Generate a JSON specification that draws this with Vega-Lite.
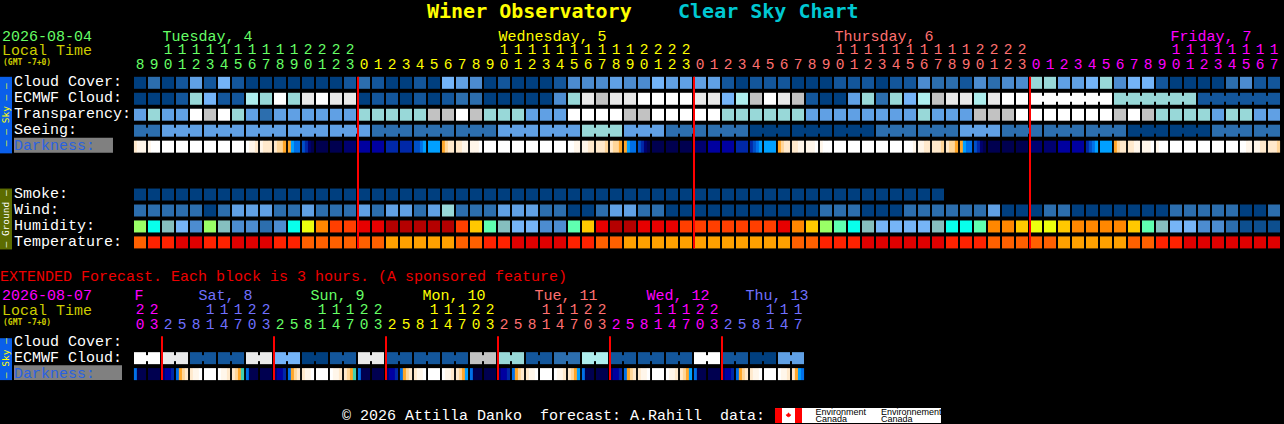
{"$schema":"https://vega.github.io/schema/vega-lite/v6.json","autosize":{"type":"fit","contains":"padding"},"width":1284,"height":424,"padding":0,"background":"#000000","view":{"stroke":null},
"encoding":{"x":{"field":"c","type":"quantitative","axis":null,"scale":{"domain":[-10,81.7142857],"nice":false,"zero":false}},"y":{"field":"l","type":"quantitative","axis":null,"scale":{"domain":[-5.1875,21.3125],"nice":false,"zero":false,"reverse":true}},"color":{"field":"v","type":"nominal","legend":null,"scale":{"domain":["c0","c1","c2","c3","c4","c5","c6","c7","c8","c9","c10","h0","h1","h2","h3","h4","h5","h6","h7","h8","h9","h10","h11","h12","h13","t0","t1","t2","t3","d0","d1","d2","d3","d4","d5","d6","d7","d8","d9","d10","d11","d12","g","y","s","m","p","w","k","o","b","e","red","sky","ground","gray","cy"],"range":["#003f7f","#13569b","#2c6eae","#4c8cd0","#60a0e4","#74b4f8","#98d8d8","#aeeeee","#c2c2c2","#e9e9e9","#ffffff","#0d4f8f","#2c6eae","#4c8cd0","#76b4f7","#85bfbf","#99ff66","#5fffb0","#08ffec","#ecff0e","#ffc800","#ff8700","#ff3f00","#e80000","#b40000","#ff6000","#ff2200","#e00000","#ffa000","#ffffff","#fff6ea","#ffe9cc","#ffd699","#ffa628","#00a0ff","#0070e8","#0050c8","#0028a8","#0000a0","#000070","#000050","#40d0b0","#66ff66","#ffff00","#ff7070","#ff00ff","#7070ff","#ffffff","#000000","#cccc00","#2a62e0","#ee0000","#ff0000","#0a5fea","#5c6c00","#808080","#00c8d2"]}}},
"datasets":{
"panels":[{"c":-10,"c2":-9.143,"l":-0.375,"l2":4.42,"v":"sky"},{"c":-10,"c2":-9.143,"l":6.625,"l2":10.44,"v":"ground"},{"c":-10,"c2":-9.143,"l":16,"l2":18.625,"v":"sky"},{"c":-9,"c2":-1.93,"l":3.44,"l2":4.375,"v":"gray"},{"c":-9,"c2":-1.286,"l":17.69,"l2":18.625,"v":"gray"},{"c":45.357,"c2":57.214,"l":20.375,"l2":21.3125,"v":"w"},{"c":45.357,"c2":45.857,"l":20.375,"l2":21.3125,"v":"red"},{"c":46.786,"c2":47.286,"l":20.375,"l2":21.3125,"v":"red"}],
"cells":[
{"l":0,"c":0,"v":"c0"},{"l":0,"c":1,"v":"c2"},{"l":0,"c":2,"v":"c0"},{"l":0,"c":3,"v":"c1"},{"l":0,"c":4,"v":"c4"},{"l":0,"c":5,"v":"c1"},{"l":0,"c":6,"v":"c5"},{"l":0,"c":7,"v":"c1"},{"l":0,"c":8,"v":"c0"},{"l":0,"c":9,"v":"c0"},{"l":0,"c":10,"v":"c0"},{"l":0,"c":11,"v":"c0"},{"l":0,"c":12,"v":"c0"},{"l":0,"c":13,"v":"c0"},{"l":0,"c":14,"v":"c0"},{"l":0,"c":15,"v":"c1"},{"l":0,"c":16,"v":"c2"},{"l":0,"c":17,"v":"c1"},{"l":0,"c":18,"v":"c0"},{"l":0,"c":19,"v":"c0"},{"l":0,"c":20,"v":"c1"},{"l":0,"c":21,"v":"c0"},{"l":0,"c":22,"v":"c5"},{"l":0,"c":23,"v":"c4"},{"l":0,"c":24,"v":"c3"},{"l":0,"c":25,"v":"c0"},{"l":0,"c":26,"v":"c1"},{"l":0,"c":27,"v":"c0"},{"l":0,"c":28,"v":"c0"},{"l":0,"c":29,"v":"c0"},{"l":0,"c":30,"v":"c1"},{"l":0,"c":31,"v":"c3"},{"l":0,"c":32,"v":"c3"},{"l":0,"c":33,"v":"c3"},{"l":0,"c":34,"v":"c4"},{"l":0,"c":35,"v":"c3"},{"l":0,"c":36,"v":"c3"},{"l":0,"c":37,"v":"c5"},{"l":0,"c":38,"v":"c4"},{"l":0,"c":39,"v":"c4"},{"l":0,"c":40,"v":"c4"},{"l":0,"c":41,"v":"c4"},{"l":0,"c":42,"v":"c1"},{"l":0,"c":43,"v":"c0"},{"l":0,"c":44,"v":"c1"},{"l":0,"c":45,"v":"c1"},{"l":0,"c":46,"v":"c1"},{"l":0,"c":47,"v":"c0"},{"l":0,"c":48,"v":"c0"},{"l":0,"c":49,"v":"c0"},{"l":0,"c":50,"v":"c1"},{"l":0,"c":51,"v":"c1"},{"l":0,"c":52,"v":"c1"},{"l":0,"c":53,"v":"c0"},{"l":0,"c":54,"v":"c1"},{"l":0,"c":55,"v":"c1"},{"l":0,"c":56,"v":"c3"},{"l":0,"c":57,"v":"c2"},{"l":0,"c":58,"v":"c2"},{"l":0,"c":59,"v":"c1"},{"l":0,"c":60,"v":"c3"},{"l":0,"c":61,"v":"c2"},{"l":0,"c":62,"v":"c3"},{"l":0,"c":63,"v":"c3"},{"l":0,"c":64,"v":"c6"},{"l":0,"c":65,"v":"c6"},{"l":0,"c":66,"v":"c4"},{"l":0,"c":67,"v":"c4"},{"l":0,"c":68,"v":"c5"},{"l":0,"c":69,"v":"c6"},{"l":0,"c":70,"v":"c3"},{"l":0,"c":71,"v":"c5"},{"l":0,"c":72,"v":"c5"},{"l":0,"c":73,"v":"c1"},{"l":0,"c":74,"v":"c0"},{"l":0,"c":75,"v":"c0"},{"l":0,"c":76,"v":"c0"},{"l":0,"c":77,"v":"c0"},{"l":0,"c":78,"v":"c2"},{"l":0,"c":79,"v":"c3"},{"l":0,"c":80,"v":"c1"},{"l":0,"c":81,"v":"c1"},
{"l":1,"c":0,"v":"c0"},{"l":1,"c":1,"v":"c0"},{"l":1,"c":2,"v":"c0"},{"l":1,"c":3,"v":"c1"},{"l":1,"c":4,"v":"c6"},{"l":1,"c":5,"v":"c5"},{"l":1,"c":6,"v":"c1"},{"l":1,"c":7,"v":"c1"},{"l":1,"c":8,"v":"c7"},{"l":1,"c":9,"v":"c6"},{"l":1,"c":10,"v":"c10"},{"l":1,"c":11,"v":"c6"},{"l":1,"c":12,"v":"c9"},{"l":1,"c":13,"v":"c10"},{"l":1,"c":14,"v":"c9"},{"l":1,"c":15,"v":"c9"},{"l":1,"c":16,"v":"c0"},{"l":1,"c":17,"v":"c1"},{"l":1,"c":18,"v":"c1"},{"l":1,"c":19,"v":"c0"},{"l":1,"c":20,"v":"c1"},{"l":1,"c":21,"v":"c0"},{"l":1,"c":22,"v":"c1"},{"l":1,"c":23,"v":"c2"},{"l":1,"c":24,"v":"c2"},{"l":1,"c":25,"v":"c0"},{"l":1,"c":26,"v":"c0"},{"l":1,"c":27,"v":"c0"},{"l":1,"c":28,"v":"c0"},{"l":1,"c":29,"v":"c0"},{"l":1,"c":30,"v":"c3"},{"l":1,"c":31,"v":"c6"},{"l":1,"c":32,"v":"c9"},{"l":1,"c":33,"v":"c8"},{"l":1,"c":34,"v":"c9"},{"l":1,"c":35,"v":"c9"},{"l":1,"c":36,"v":"c10"},{"l":1,"c":37,"v":"c10"},{"l":1,"c":38,"v":"c10"},{"l":1,"c":39,"v":"c10"},{"l":1,"c":40,"v":"c9"},{"l":1,"c":41,"v":"c9"},{"l":1,"c":42,"v":"c5"},{"l":1,"c":43,"v":"c7"},{"l":1,"c":44,"v":"c8"},{"l":1,"c":45,"v":"c10"},{"l":1,"c":46,"v":"c9"},{"l":1,"c":47,"v":"c8"},{"l":1,"c":48,"v":"c1"},{"l":1,"c":49,"v":"c0"},{"l":1,"c":50,"v":"c0"},{"l":1,"c":51,"v":"c4"},{"l":1,"c":52,"v":"c6"},{"l":1,"c":53,"v":"c2"},{"l":1,"c":54,"v":"c6"},{"l":1,"c":55,"v":"c5"},{"l":1,"c":56,"v":"c7"},{"l":1,"c":57,"v":"c8"},{"l":1,"c":58,"v":"c9"},{"l":1,"c":59,"v":"c9"},{"l":1,"c":60,"v":"c7"},{"l":1,"c":61,"v":"c9"},{"l":1,"c":62,"v":"c10"},{"l":1,"c":63,"v":"c10"},{"l":1,"c":64,"v":"c10"},{"l":1,"c":65,"v":"c10"},{"l":1,"c":66,"v":"c10"},{"l":1,"c":67,"v":"c10"},{"l":1,"c":68,"v":"c10"},{"l":1,"c":69,"v":"c10"},{"l":1,"c":70,"v":"c6"},{"l":1,"c":71,"v":"c6"},{"l":1,"c":72,"v":"c6"},{"l":1,"c":73,"v":"c6"},{"l":1,"c":74,"v":"c6"},{"l":1,"c":75,"v":"c6"},{"l":1,"c":76,"v":"c1"},{"l":1,"c":77,"v":"c1"},{"l":1,"c":78,"v":"c1"},{"l":1,"c":79,"v":"c1"},{"l":1,"c":80,"v":"c1"},{"l":1,"c":81,"v":"c1"},
{"l":2,"c":0,"v":"c4"},{"l":2,"c":1,"v":"c6"},{"l":2,"c":2,"v":"c4"},{"l":2,"c":3,"v":"c4"},{"l":2,"c":4,"v":"c10"},{"l":2,"c":5,"v":"c8"},{"l":2,"c":6,"v":"c10"},{"l":2,"c":7,"v":"c6"},{"l":2,"c":8,"v":"c4"},{"l":2,"c":9,"v":"c2"},{"l":2,"c":10,"v":"c4"},{"l":2,"c":11,"v":"c4"},{"l":2,"c":12,"v":"c4"},{"l":2,"c":13,"v":"c4"},{"l":2,"c":14,"v":"c4"},{"l":2,"c":15,"v":"c4"},{"l":2,"c":16,"v":"c6"},{"l":2,"c":17,"v":"c6"},{"l":2,"c":18,"v":"c6"},{"l":2,"c":19,"v":"c6"},{"l":2,"c":20,"v":"c6"},{"l":2,"c":21,"v":"c8"},{"l":2,"c":22,"v":"c8"},{"l":2,"c":23,"v":"c10"},{"l":2,"c":24,"v":"c8"},{"l":2,"c":25,"v":"c6"},{"l":2,"c":26,"v":"c6"},{"l":2,"c":27,"v":"c6"},{"l":2,"c":28,"v":"c4"},{"l":2,"c":29,"v":"c4"},{"l":2,"c":30,"v":"c4"},{"l":2,"c":31,"v":"c10"},{"l":2,"c":32,"v":"c10"},{"l":2,"c":33,"v":"c10"},{"l":2,"c":34,"v":"c10"},{"l":2,"c":35,"v":"c8"},{"l":2,"c":36,"v":"c8"},{"l":2,"c":37,"v":"c10"},{"l":2,"c":38,"v":"c10"},{"l":2,"c":39,"v":"c10"},{"l":2,"c":40,"v":"c10"},{"l":2,"c":41,"v":"c10"},{"l":2,"c":42,"v":"c6"},{"l":2,"c":43,"v":"c6"},{"l":2,"c":44,"v":"c6"},{"l":2,"c":45,"v":"c6"},{"l":2,"c":46,"v":"c6"},{"l":2,"c":47,"v":"c6"},{"l":2,"c":48,"v":"c4"},{"l":2,"c":49,"v":"c4"},{"l":2,"c":50,"v":"c4"},{"l":2,"c":51,"v":"c4"},{"l":2,"c":52,"v":"c4"},{"l":2,"c":53,"v":"c4"},{"l":2,"c":54,"v":"c4"},{"l":2,"c":55,"v":"c4"},{"l":2,"c":56,"v":"c6"},{"l":2,"c":57,"v":"c4"},{"l":2,"c":58,"v":"c4"},{"l":2,"c":59,"v":"c4"},{"l":2,"c":60,"v":"c8"},{"l":2,"c":61,"v":"c8"},{"l":2,"c":62,"v":"c8"},{"l":2,"c":63,"v":"c10"},{"l":2,"c":64,"v":"c10"},{"l":2,"c":65,"v":"c10"},{"l":2,"c":66,"v":"c10"},{"l":2,"c":67,"v":"c10"},{"l":2,"c":68,"v":"c10"},{"l":2,"c":69,"v":"c10"},{"l":2,"c":70,"v":"c8"},{"l":2,"c":71,"v":"c10"},{"l":2,"c":72,"v":"c8"},{"l":2,"c":73,"v":"c6"},{"l":2,"c":74,"v":"c6"},{"l":2,"c":75,"v":"c6"},{"l":2,"c":76,"v":"c6"},{"l":2,"c":77,"v":"c4"},{"l":2,"c":78,"v":"c6"},{"l":2,"c":79,"v":"c6"},{"l":2,"c":80,"v":"c4"},{"l":2,"c":81,"v":"c4"},
{"l":3,"c":0,"v":"c2"},{"l":3,"c":1,"v":"c2"},{"l":3,"c":2,"v":"c4"},{"l":3,"c":3,"v":"c4"},{"l":3,"c":4,"v":"c4"},{"l":3,"c":5,"v":"c4"},{"l":3,"c":6,"v":"c4"},{"l":3,"c":7,"v":"c4"},{"l":3,"c":8,"v":"c4"},{"l":3,"c":9,"v":"c4"},{"l":3,"c":10,"v":"c4"},{"l":3,"c":11,"v":"c4"},{"l":3,"c":12,"v":"c4"},{"l":3,"c":13,"v":"c4"},{"l":3,"c":14,"v":"c4"},{"l":3,"c":15,"v":"c4"},{"l":3,"c":16,"v":"c4"},{"l":3,"c":17,"v":"c2"},{"l":3,"c":18,"v":"c2"},{"l":3,"c":19,"v":"c2"},{"l":3,"c":20,"v":"c2"},{"l":3,"c":21,"v":"c2"},{"l":3,"c":22,"v":"c2"},{"l":3,"c":23,"v":"c2"},{"l":3,"c":24,"v":"c2"},{"l":3,"c":25,"v":"c2"},{"l":3,"c":26,"v":"c4"},{"l":3,"c":27,"v":"c4"},{"l":3,"c":28,"v":"c4"},{"l":3,"c":29,"v":"c4"},{"l":3,"c":30,"v":"c4"},{"l":3,"c":31,"v":"c4"},{"l":3,"c":32,"v":"c6"},{"l":3,"c":33,"v":"c6"},{"l":3,"c":34,"v":"c6"},{"l":3,"c":35,"v":"c4"},{"l":3,"c":36,"v":"c4"},{"l":3,"c":37,"v":"c4"},{"l":3,"c":38,"v":"c2"},{"l":3,"c":39,"v":"c2"},{"l":3,"c":40,"v":"c2"},{"l":3,"c":41,"v":"c2"},{"l":3,"c":42,"v":"c2"},{"l":3,"c":43,"v":"c2"},{"l":3,"c":44,"v":"c0"},{"l":3,"c":45,"v":"c0"},{"l":3,"c":46,"v":"c0"},{"l":3,"c":47,"v":"c0"},{"l":3,"c":48,"v":"c0"},{"l":3,"c":49,"v":"c0"},{"l":3,"c":50,"v":"c0"},{"l":3,"c":51,"v":"c0"},{"l":3,"c":52,"v":"c0"},{"l":3,"c":53,"v":"c2"},{"l":3,"c":54,"v":"c2"},{"l":3,"c":55,"v":"c2"},{"l":3,"c":56,"v":"c2"},{"l":3,"c":57,"v":"c2"},{"l":3,"c":58,"v":"c2"},{"l":3,"c":59,"v":"c4"},{"l":3,"c":60,"v":"c4"},{"l":3,"c":61,"v":"c4"},{"l":3,"c":62,"v":"c2"},{"l":3,"c":63,"v":"c2"},{"l":3,"c":64,"v":"c2"},{"l":3,"c":65,"v":"c2"},{"l":3,"c":66,"v":"c2"},{"l":3,"c":67,"v":"c2"},{"l":3,"c":68,"v":"c2"},{"l":3,"c":69,"v":"c2"},{"l":3,"c":70,"v":"c2"},{"l":3,"c":71,"v":"c0"},{"l":3,"c":72,"v":"c0"},{"l":3,"c":73,"v":"c0"},{"l":3,"c":74,"v":"c0"},{"l":3,"c":75,"v":"c0"},{"l":3,"c":76,"v":"c0"},{"l":3,"c":77,"v":"c2"},{"l":3,"c":78,"v":"c2"},{"l":3,"c":79,"v":"c2"},{"l":3,"c":80,"v":"c2"},{"l":3,"c":81,"v":"c2"},
{"l":4,"c":2,"v":"d0"},{"l":4,"c":3,"v":"d0"},{"l":4,"c":4,"v":"d0"},{"l":4,"c":5,"v":"d0"},{"l":4,"c":6,"v":"d0"},{"l":4,"c":7,"v":"d0"},{"l":4,"c":13,"v":"d11"},{"l":4,"c":14,"v":"d11"},{"l":4,"c":15,"v":"d10"},{"l":4,"c":16,"v":"d9"},{"l":4,"c":17,"v":"d9"},{"l":4,"c":18,"v":"d8"},{"l":4,"c":19,"v":"d8"},{"l":4,"c":21,"v":"d5"},{"l":4,"c":25,"v":"d0"},{"l":4,"c":26,"v":"d0"},{"l":4,"c":27,"v":"d0"},{"l":4,"c":28,"v":"d0"},{"l":4,"c":29,"v":"d0"},{"l":4,"c":30,"v":"d0"},{"l":4,"c":37,"v":"d11"},{"l":4,"c":38,"v":"d11"},{"l":4,"c":39,"v":"d11"},{"l":4,"c":40,"v":"d10"},{"l":4,"c":41,"v":"d9"},{"l":4,"c":42,"v":"d9"},{"l":4,"c":43,"v":"d8"},{"l":4,"c":45,"v":"d5"},{"l":4,"c":50,"v":"d0"},{"l":4,"c":51,"v":"d0"},{"l":4,"c":52,"v":"d0"},{"l":4,"c":53,"v":"d0"},{"l":4,"c":54,"v":"d0"},{"l":4,"c":61,"v":"d11"},{"l":4,"c":62,"v":"d11"},{"l":4,"c":63,"v":"d11"},{"l":4,"c":64,"v":"d10"},{"l":4,"c":65,"v":"d10"},{"l":4,"c":66,"v":"d9"},{"l":4,"c":67,"v":"d9"},{"l":4,"c":69,"v":"d5"},{"l":4,"c":74,"v":"d0"},{"l":4,"c":75,"v":"d0"},{"l":4,"c":76,"v":"d0"},{"l":4,"c":77,"v":"d0"},{"l":4,"c":78,"v":"d0"},
{"l":7,"c":0,"v":"c0"},{"l":7,"c":1,"v":"c0"},{"l":7,"c":2,"v":"c0"},{"l":7,"c":3,"v":"c0"},{"l":7,"c":4,"v":"c0"},{"l":7,"c":5,"v":"c0"},{"l":7,"c":6,"v":"c0"},{"l":7,"c":7,"v":"c0"},{"l":7,"c":8,"v":"c0"},{"l":7,"c":9,"v":"c0"},{"l":7,"c":10,"v":"c0"},{"l":7,"c":11,"v":"c0"},{"l":7,"c":12,"v":"c0"},{"l":7,"c":13,"v":"c0"},{"l":7,"c":14,"v":"c0"},{"l":7,"c":15,"v":"c0"},{"l":7,"c":16,"v":"c0"},{"l":7,"c":17,"v":"c0"},{"l":7,"c":18,"v":"c0"},{"l":7,"c":19,"v":"c0"},{"l":7,"c":20,"v":"c0"},{"l":7,"c":21,"v":"c0"},{"l":7,"c":22,"v":"c0"},{"l":7,"c":23,"v":"c0"},{"l":7,"c":24,"v":"c0"},{"l":7,"c":25,"v":"c0"},{"l":7,"c":26,"v":"c0"},{"l":7,"c":27,"v":"c0"},{"l":7,"c":28,"v":"c0"},{"l":7,"c":29,"v":"c0"},{"l":7,"c":30,"v":"c0"},{"l":7,"c":31,"v":"c0"},{"l":7,"c":32,"v":"c0"},{"l":7,"c":33,"v":"c0"},{"l":7,"c":34,"v":"c0"},{"l":7,"c":35,"v":"c0"},{"l":7,"c":36,"v":"c0"},{"l":7,"c":37,"v":"c0"},{"l":7,"c":38,"v":"c0"},{"l":7,"c":39,"v":"c0"},{"l":7,"c":40,"v":"c0"},{"l":7,"c":41,"v":"c0"},{"l":7,"c":42,"v":"c0"},{"l":7,"c":43,"v":"c0"},{"l":7,"c":44,"v":"c0"},{"l":7,"c":45,"v":"c0"},{"l":7,"c":46,"v":"c0"},{"l":7,"c":47,"v":"c0"},{"l":7,"c":48,"v":"c0"},{"l":7,"c":49,"v":"c0"},{"l":7,"c":50,"v":"c0"},{"l":7,"c":51,"v":"c0"},{"l":7,"c":52,"v":"c0"},{"l":7,"c":53,"v":"c0"},{"l":7,"c":54,"v":"c0"},{"l":7,"c":55,"v":"c0"},{"l":7,"c":56,"v":"c0"},{"l":7,"c":57,"v":"c0"},
{"l":8,"c":0,"v":"c2"},{"l":8,"c":1,"v":"c2"},{"l":8,"c":2,"v":"c2"},{"l":8,"c":3,"v":"c2"},{"l":8,"c":4,"v":"c2"},{"l":8,"c":5,"v":"c0"},{"l":8,"c":6,"v":"c2"},{"l":8,"c":7,"v":"c4"},{"l":8,"c":8,"v":"c4"},{"l":8,"c":9,"v":"c4"},{"l":8,"c":10,"v":"c2"},{"l":8,"c":11,"v":"c2"},{"l":8,"c":12,"v":"c4"},{"l":8,"c":13,"v":"c2"},{"l":8,"c":14,"v":"c2"},{"l":8,"c":15,"v":"c2"},{"l":8,"c":16,"v":"c4"},{"l":8,"c":17,"v":"c2"},{"l":8,"c":18,"v":"c4"},{"l":8,"c":19,"v":"c4"},{"l":8,"c":20,"v":"c2"},{"l":8,"c":21,"v":"c4"},{"l":8,"c":22,"v":"c6"},{"l":8,"c":23,"v":"c2"},{"l":8,"c":24,"v":"c2"},{"l":8,"c":25,"v":"c2"},{"l":8,"c":26,"v":"c4"},{"l":8,"c":27,"v":"c4"},{"l":8,"c":28,"v":"c4"},{"l":8,"c":29,"v":"c2"},{"l":8,"c":30,"v":"c2"},{"l":8,"c":31,"v":"c0"},{"l":8,"c":32,"v":"c0"},{"l":8,"c":33,"v":"c2"},{"l":8,"c":34,"v":"c4"},{"l":8,"c":35,"v":"c4"},{"l":8,"c":36,"v":"c2"},{"l":8,"c":37,"v":"c2"},{"l":8,"c":38,"v":"c0"},{"l":8,"c":39,"v":"c0"},{"l":8,"c":40,"v":"c0"},{"l":8,"c":41,"v":"c0"},{"l":8,"c":42,"v":"c0"},{"l":8,"c":43,"v":"c0"},{"l":8,"c":44,"v":"c0"},{"l":8,"c":45,"v":"c0"},{"l":8,"c":46,"v":"c0"},{"l":8,"c":47,"v":"c0"},{"l":8,"c":48,"v":"c0"},{"l":8,"c":49,"v":"c2"},{"l":8,"c":50,"v":"c2"},{"l":8,"c":51,"v":"c2"},{"l":8,"c":52,"v":"c0"},{"l":8,"c":53,"v":"c0"},{"l":8,"c":54,"v":"c0"},{"l":8,"c":55,"v":"c2"},{"l":8,"c":56,"v":"c2"},{"l":8,"c":57,"v":"c2"},{"l":8,"c":58,"v":"c2"},{"l":8,"c":59,"v":"c2"},{"l":8,"c":60,"v":"c2"},{"l":8,"c":61,"v":"c4"},{"l":8,"c":62,"v":"c0"},{"l":8,"c":63,"v":"c0"},{"l":8,"c":64,"v":"c0"},{"l":8,"c":65,"v":"c2"},{"l":8,"c":66,"v":"c2"},{"l":8,"c":67,"v":"c0"},{"l":8,"c":68,"v":"c0"},{"l":8,"c":69,"v":"c0"},{"l":8,"c":70,"v":"c0"},{"l":8,"c":71,"v":"c0"},{"l":8,"c":72,"v":"c0"},{"l":8,"c":73,"v":"c0"},{"l":8,"c":74,"v":"c2"},{"l":8,"c":75,"v":"c2"},{"l":8,"c":76,"v":"c2"},{"l":8,"c":77,"v":"c2"},{"l":8,"c":78,"v":"c2"},{"l":8,"c":79,"v":"c0"},{"l":8,"c":80,"v":"c0"},{"l":8,"c":81,"v":"c2"},
{"l":9,"c":0,"v":"h5"},{"l":9,"c":1,"v":"h7"},{"l":9,"c":2,"v":"h4"},{"l":9,"c":3,"v":"h3"},{"l":9,"c":4,"v":"h2"},{"l":9,"c":5,"v":"h5"},{"l":9,"c":6,"v":"h4"},{"l":9,"c":7,"v":"h2"},{"l":9,"c":8,"v":"h2"},{"l":9,"c":9,"v":"h1"},{"l":9,"c":10,"v":"h2"},{"l":9,"c":11,"v":"h7"},{"l":9,"c":12,"v":"h8"},{"l":9,"c":13,"v":"h10"},{"l":9,"c":14,"v":"h11"},{"l":9,"c":15,"v":"h11"},{"l":9,"c":16,"v":"h12"},{"l":9,"c":17,"v":"h12"},{"l":9,"c":18,"v":"h13"},{"l":9,"c":19,"v":"h13"},{"l":9,"c":20,"v":"h13"},{"l":9,"c":21,"v":"h13"},{"l":9,"c":22,"v":"h13"},{"l":9,"c":23,"v":"h11"},{"l":9,"c":24,"v":"h9"},{"l":9,"c":25,"v":"h6"},{"l":9,"c":26,"v":"h4"},{"l":9,"c":27,"v":"h3"},{"l":9,"c":28,"v":"h3"},{"l":9,"c":29,"v":"h2"},{"l":9,"c":30,"v":"h2"},{"l":9,"c":31,"v":"h6"},{"l":9,"c":32,"v":"h9"},{"l":9,"c":33,"v":"h12"},{"l":9,"c":34,"v":"h13"},{"l":9,"c":35,"v":"h13"},{"l":9,"c":36,"v":"h12"},{"l":9,"c":37,"v":"h12"},{"l":9,"c":38,"v":"h12"},{"l":9,"c":39,"v":"h11"},{"l":9,"c":40,"v":"h11"},{"l":9,"c":41,"v":"h11"},{"l":9,"c":42,"v":"h11"},{"l":9,"c":43,"v":"h11"},{"l":9,"c":44,"v":"h11"},{"l":9,"c":45,"v":"h11"},{"l":9,"c":46,"v":"h12"},{"l":9,"c":47,"v":"h10"},{"l":9,"c":48,"v":"h9"},{"l":9,"c":49,"v":"h5"},{"l":9,"c":50,"v":"h6"},{"l":9,"c":51,"v":"h7"},{"l":9,"c":52,"v":"h4"},{"l":9,"c":53,"v":"h3"},{"l":9,"c":54,"v":"h3"},{"l":9,"c":55,"v":"h3"},{"l":9,"c":56,"v":"h3"},{"l":9,"c":57,"v":"h4"},{"l":9,"c":58,"v":"h7"},{"l":9,"c":59,"v":"h7"},{"l":9,"c":60,"v":"h6"},{"l":9,"c":61,"v":"h10"},{"l":9,"c":62,"v":"h10"},{"l":9,"c":63,"v":"h9"},{"l":9,"c":64,"v":"h8"},{"l":9,"c":65,"v":"h8"},{"l":9,"c":66,"v":"h9"},{"l":9,"c":67,"v":"h10"},{"l":9,"c":68,"v":"h10"},{"l":9,"c":69,"v":"h10"},{"l":9,"c":70,"v":"h10"},{"l":9,"c":71,"v":"h9"},{"l":9,"c":72,"v":"h6"},{"l":9,"c":73,"v":"h4"},{"l":9,"c":74,"v":"h3"},{"l":9,"c":75,"v":"h3"},{"l":9,"c":76,"v":"h2"},{"l":9,"c":77,"v":"h2"},{"l":9,"c":78,"v":"h1"},{"l":9,"c":79,"v":"h0"},{"l":9,"c":80,"v":"h0"},{"l":9,"c":81,"v":"h0"},
{"l":10,"c":0,"v":"t0"},{"l":10,"c":1,"v":"t1"},{"l":10,"c":2,"v":"t1"},{"l":10,"c":3,"v":"t2"},{"l":10,"c":4,"v":"t2"},{"l":10,"c":5,"v":"t1"},{"l":10,"c":6,"v":"t1"},{"l":10,"c":7,"v":"t2"},{"l":10,"c":8,"v":"t2"},{"l":10,"c":9,"v":"t2"},{"l":10,"c":10,"v":"t1"},{"l":10,"c":11,"v":"t1"},{"l":10,"c":12,"v":"t0"},{"l":10,"c":13,"v":"t0"},{"l":10,"c":14,"v":"t0"},{"l":10,"c":15,"v":"t0"},{"l":10,"c":16,"v":"t0"},{"l":10,"c":17,"v":"t0"},{"l":10,"c":18,"v":"t3"},{"l":10,"c":19,"v":"t3"},{"l":10,"c":20,"v":"t3"},{"l":10,"c":21,"v":"t3"},{"l":10,"c":22,"v":"t3"},{"l":10,"c":23,"v":"t0"},{"l":10,"c":24,"v":"t0"},{"l":10,"c":25,"v":"t1"},{"l":10,"c":26,"v":"t1"},{"l":10,"c":27,"v":"t2"},{"l":10,"c":28,"v":"t2"},{"l":10,"c":29,"v":"t2"},{"l":10,"c":30,"v":"t2"},{"l":10,"c":31,"v":"t1"},{"l":10,"c":32,"v":"t1"},{"l":10,"c":33,"v":"t0"},{"l":10,"c":34,"v":"t0"},{"l":10,"c":35,"v":"t3"},{"l":10,"c":36,"v":"t3"},{"l":10,"c":37,"v":"t3"},{"l":10,"c":38,"v":"t3"},{"l":10,"c":39,"v":"t3"},{"l":10,"c":40,"v":"t3"},{"l":10,"c":41,"v":"t3"},{"l":10,"c":42,"v":"t3"},{"l":10,"c":43,"v":"t3"},{"l":10,"c":44,"v":"t3"},{"l":10,"c":45,"v":"t3"},{"l":10,"c":46,"v":"t3"},{"l":10,"c":47,"v":"t0"},{"l":10,"c":48,"v":"t0"},{"l":10,"c":49,"v":"t1"},{"l":10,"c":50,"v":"t1"},{"l":10,"c":51,"v":"t1"},{"l":10,"c":52,"v":"t2"},{"l":10,"c":53,"v":"t2"},{"l":10,"c":54,"v":"t2"},{"l":10,"c":55,"v":"t2"},{"l":10,"c":56,"v":"t2"},{"l":10,"c":57,"v":"t2"},{"l":10,"c":58,"v":"t1"},{"l":10,"c":59,"v":"t1"},{"l":10,"c":60,"v":"t1"},{"l":10,"c":61,"v":"t0"},{"l":10,"c":62,"v":"t0"},{"l":10,"c":63,"v":"t0"},{"l":10,"c":64,"v":"t0"},{"l":10,"c":65,"v":"t0"},{"l":10,"c":66,"v":"t3"},{"l":10,"c":67,"v":"t3"},{"l":10,"c":68,"v":"t3"},{"l":10,"c":69,"v":"t3"},{"l":10,"c":70,"v":"t3"},{"l":10,"c":71,"v":"t0"},{"l":10,"c":72,"v":"t0"},{"l":10,"c":73,"v":"t1"},{"l":10,"c":74,"v":"t1"},{"l":10,"c":75,"v":"t2"},{"l":10,"c":76,"v":"t2"},{"l":10,"c":77,"v":"t2"},{"l":10,"c":78,"v":"t2"},{"l":10,"c":79,"v":"t2"},{"l":10,"c":80,"v":"t2"},{"l":10,"c":81,"v":"t2"},
{"l":17.25,"c":0,"v":"c10"},{"l":17.25,"c":1,"v":"c10"},{"l":17.25,"c":2,"v":"c9"},{"l":17.25,"c":3,"v":"c9"},{"l":17.25,"c":4,"v":"c1"},{"l":17.25,"c":5,"v":"c1"},{"l":17.25,"c":6,"v":"c1"},{"l":17.25,"c":7,"v":"c1"},{"l":17.25,"c":8,"v":"c9"},{"l":17.25,"c":9,"v":"c9"},{"l":17.25,"c":10,"v":"c5"},{"l":17.25,"c":11,"v":"c5"},{"l":17.25,"c":12,"v":"c0"},{"l":17.25,"c":13,"v":"c0"},{"l":17.25,"c":14,"v":"c1"},{"l":17.25,"c":15,"v":"c1"},{"l":17.25,"c":16,"v":"c9"},{"l":17.25,"c":17,"v":"c9"},{"l":17.25,"c":18,"v":"c1"},{"l":17.25,"c":19,"v":"c1"},{"l":17.25,"c":20,"v":"c1"},{"l":17.25,"c":21,"v":"c1"},{"l":17.25,"c":22,"v":"c1"},{"l":17.25,"c":23,"v":"c1"},{"l":17.25,"c":24,"v":"c8"},{"l":17.25,"c":25,"v":"c8"},{"l":17.25,"c":26,"v":"c6"},{"l":17.25,"c":27,"v":"c6"},{"l":17.25,"c":28,"v":"c1"},{"l":17.25,"c":29,"v":"c1"},{"l":17.25,"c":30,"v":"c2"},{"l":17.25,"c":31,"v":"c2"},{"l":17.25,"c":32,"v":"c7"},{"l":17.25,"c":33,"v":"c7"},{"l":17.25,"c":34,"v":"c1"},{"l":17.25,"c":35,"v":"c1"},{"l":17.25,"c":36,"v":"c1"},{"l":17.25,"c":37,"v":"c1"},{"l":17.25,"c":38,"v":"c1"},{"l":17.25,"c":39,"v":"c1"},{"l":17.25,"c":40,"v":"c10"},{"l":17.25,"c":41,"v":"c10"},{"l":17.25,"c":42,"v":"c1"},{"l":17.25,"c":43,"v":"c1"},{"l":17.25,"c":44,"v":"c0"},{"l":17.25,"c":45,"v":"c0"},{"l":17.25,"c":46,"v":"c4"},{"l":17.25,"c":47,"v":"c4"},
{"l":18.25,"c":1,"v":"d11"},{"l":18.25,"c":5,"v":"d0"},{"l":18.25,"c":9,"v":"d11"},{"l":18.25,"c":13,"v":"d0"},{"l":18.25,"c":17,"v":"d11"},{"l":18.25,"c":21,"v":"d0"},{"l":18.25,"c":25,"v":"d11"},{"l":18.25,"c":29,"v":"d0"},{"l":18.25,"c":33,"v":"d11"},{"l":18.25,"c":37,"v":"d0"},{"l":18.25,"c":41,"v":"d11"},{"l":18.25,"c":45,"v":"d0"}],
"links":[{"l":1,"c":64.5,"v":"c10"},{"l":1,"c":65.5,"v":"c10"},{"l":1,"c":66.5,"v":"c10"},{"l":1,"c":67.5,"v":"c10"},{"l":1,"c":68.5,"v":"c10"},{"l":1,"c":70.5,"v":"c6"},{"l":1,"c":71.5,"v":"c6"},{"l":1,"c":72.5,"v":"c6"},{"l":1,"c":73.5,"v":"c6"},{"l":1,"c":74.5,"v":"c6"},{"l":1,"c":76.5,"v":"c1"},{"l":1,"c":77.5,"v":"c1"},{"l":1,"c":78.5,"v":"c1"},{"l":1,"c":79.5,"v":"c1"},{"l":1,"c":80.5,"v":"c1"},
{"l":3,"c":0.5,"v":"c2"},{"l":3,"c":2.5,"v":"c4"},{"l":3,"c":3.5,"v":"c4"},{"l":3,"c":5.5,"v":"c4"},{"l":3,"c":6.5,"v":"c4"},{"l":3,"c":8.5,"v":"c4"},{"l":3,"c":9.5,"v":"c4"},{"l":3,"c":11.5,"v":"c4"},{"l":3,"c":12.5,"v":"c4"},{"l":3,"c":14.5,"v":"c4"},{"l":3,"c":15.5,"v":"c4"},{"l":3,"c":17.5,"v":"c2"},{"l":3,"c":18.5,"v":"c2"},{"l":3,"c":20.5,"v":"c2"},{"l":3,"c":21.5,"v":"c2"},{"l":3,"c":23.5,"v":"c2"},{"l":3,"c":24.5,"v":"c2"},{"l":3,"c":26.5,"v":"c4"},{"l":3,"c":27.5,"v":"c4"},{"l":3,"c":29.5,"v":"c4"},{"l":3,"c":30.5,"v":"c4"},{"l":3,"c":32.5,"v":"c6"},{"l":3,"c":33.5,"v":"c6"},{"l":3,"c":35.5,"v":"c4"},{"l":3,"c":36.5,"v":"c4"},{"l":3,"c":38.5,"v":"c2"},{"l":3,"c":39.5,"v":"c2"},{"l":3,"c":41.5,"v":"c2"},{"l":3,"c":42.5,"v":"c2"},{"l":3,"c":44.5,"v":"c0"},{"l":3,"c":45.5,"v":"c0"},{"l":3,"c":47.5,"v":"c0"},{"l":3,"c":48.5,"v":"c0"},{"l":3,"c":50.5,"v":"c0"},{"l":3,"c":51.5,"v":"c0"},{"l":3,"c":53.5,"v":"c2"},{"l":3,"c":54.5,"v":"c2"},{"l":3,"c":56.5,"v":"c2"},{"l":3,"c":57.5,"v":"c2"},{"l":3,"c":59.5,"v":"c4"},{"l":3,"c":60.5,"v":"c4"},{"l":3,"c":62.5,"v":"c2"},{"l":3,"c":63.5,"v":"c2"},{"l":3,"c":65.5,"v":"c2"},{"l":3,"c":66.5,"v":"c2"},{"l":3,"c":68.5,"v":"c2"},{"l":3,"c":69.5,"v":"c2"},{"l":3,"c":71.5,"v":"c0"},{"l":3,"c":72.5,"v":"c0"},{"l":3,"c":74.5,"v":"c0"},{"l":3,"c":75.5,"v":"c0"},{"l":3,"c":77.5,"v":"c2"},{"l":3,"c":78.5,"v":"c2"},{"l":3,"c":80.5,"v":"c2"},
{"l":17.25,"c":0.5,"v":"c10"},{"l":17.25,"c":2.5,"v":"c9"},{"l":17.25,"c":4.5,"v":"c1"},{"l":17.25,"c":6.5,"v":"c1"},{"l":17.25,"c":8.5,"v":"c9"},{"l":17.25,"c":10.5,"v":"c5"},{"l":17.25,"c":12.5,"v":"c0"},{"l":17.25,"c":14.5,"v":"c1"},{"l":17.25,"c":16.5,"v":"c9"},{"l":17.25,"c":18.5,"v":"c1"},{"l":17.25,"c":20.5,"v":"c1"},{"l":17.25,"c":22.5,"v":"c1"},{"l":17.25,"c":24.5,"v":"c8"},{"l":17.25,"c":26.5,"v":"c6"},{"l":17.25,"c":28.5,"v":"c1"},{"l":17.25,"c":30.5,"v":"c2"},{"l":17.25,"c":32.5,"v":"c7"},{"l":17.25,"c":34.5,"v":"c1"},{"l":17.25,"c":36.5,"v":"c1"},{"l":17.25,"c":38.5,"v":"c1"},{"l":17.25,"c":40.5,"v":"c10"},{"l":17.25,"c":42.5,"v":"c1"},{"l":17.25,"c":44.5,"v":"c0"},{"l":17.25,"c":46.5,"v":"c4"}],
"strips":[
{"l":4,"c":-0.32,"v":"d2"},{"l":4,"c":-0.11,"v":"d1"},{"l":4,"c":0.11,"v":"d1"},{"l":4,"c":0.32,"v":"d1"},{"l":4,"c":0.68,"v":"d1"},{"l":4,"c":0.89,"v":"d0"},{"l":4,"c":1.11,"v":"d0"},{"l":4,"c":1.32,"v":"d0"},
{"l":4,"c":7.68,"v":"d0"},{"l":4,"c":7.89,"v":"d1"},{"l":4,"c":8.11,"v":"d1"},{"l":4,"c":8.32,"v":"d2"},{"l":4,"c":8.68,"v":"d1"},{"l":4,"c":8.89,"v":"d2"},{"l":4,"c":9.11,"v":"d2"},{"l":4,"c":9.32,"v":"d2"},{"l":4,"c":9.68,"v":"d2"},{"l":4,"c":9.89,"v":"d3"},{"l":4,"c":10.11,"v":"d3"},{"l":4,"c":10.32,"v":"d4"},{"l":4,"c":10.68,"v":"d4"},{"l":4,"c":10.89,"v":"d5"},{"l":4,"c":11.11,"v":"d6"},{"l":4,"c":11.32,"v":"d6"},{"l":4,"c":11.68,"v":"d7"},{"l":4,"c":11.89,"v":"d8"},{"l":4,"c":12.11,"v":"d10"},{"l":4,"c":12.32,"v":"d11"},
{"l":4,"c":19.68,"v":"d7"},{"l":4,"c":19.89,"v":"d7"},{"l":4,"c":20.11,"v":"d6"},{"l":4,"c":20.32,"v":"d5"},
{"l":4,"c":21.68,"v":"d4"},{"l":4,"c":21.89,"v":"d3"},{"l":4,"c":22.11,"v":"d2"},{"l":4,"c":22.32,"v":"d2"},{"l":4,"c":22.68,"v":"d2"},{"l":4,"c":22.89,"v":"d2"},{"l":4,"c":23.11,"v":"d1"},{"l":4,"c":23.32,"v":"d1"},{"l":4,"c":23.68,"v":"d1"},{"l":4,"c":23.89,"v":"d1"},{"l":4,"c":24.11,"v":"d1"},{"l":4,"c":24.32,"v":"d0"},
{"l":4,"c":30.68,"v":"d0"},{"l":4,"c":30.89,"v":"d0"},{"l":4,"c":31.11,"v":"d1"},{"l":4,"c":31.32,"v":"d1"},{"l":4,"c":31.68,"v":"d1"},{"l":4,"c":31.89,"v":"d1"},{"l":4,"c":32.11,"v":"d2"},{"l":4,"c":32.32,"v":"d2"},{"l":4,"c":32.68,"v":"d2"},{"l":4,"c":32.89,"v":"d2"},{"l":4,"c":33.11,"v":"d2"},{"l":4,"c":33.32,"v":"d3"},{"l":4,"c":33.68,"v":"d2"},{"l":4,"c":33.89,"v":"d3"},{"l":4,"c":34.11,"v":"d3"},{"l":4,"c":34.32,"v":"d4"},{"l":4,"c":34.68,"v":"d4"},{"l":4,"c":34.89,"v":"d5"},{"l":4,"c":35.11,"v":"d6"},{"l":4,"c":35.32,"v":"d6"},{"l":4,"c":35.68,"v":"d7"},{"l":4,"c":35.89,"v":"d8"},{"l":4,"c":36.11,"v":"d10"},{"l":4,"c":36.32,"v":"d11"},
{"l":4,"c":43.68,"v":"d8"},{"l":4,"c":43.89,"v":"d7"},{"l":4,"c":44.11,"v":"d6"},{"l":4,"c":44.32,"v":"d5"},
{"l":4,"c":45.68,"v":"d4"},{"l":4,"c":45.89,"v":"d3"},{"l":4,"c":46.11,"v":"d2"},{"l":4,"c":46.32,"v":"d2"},{"l":4,"c":46.68,"v":"d2"},{"l":4,"c":46.89,"v":"d2"},{"l":4,"c":47.11,"v":"d1"},{"l":4,"c":47.32,"v":"d1"},{"l":4,"c":47.68,"v":"d1"},{"l":4,"c":47.89,"v":"d1"},{"l":4,"c":48.11,"v":"d1"},{"l":4,"c":48.32,"v":"d0"},{"l":4,"c":48.68,"v":"d1"},{"l":4,"c":48.89,"v":"d0"},{"l":4,"c":49.11,"v":"d0"},{"l":4,"c":49.32,"v":"d0"},
{"l":4,"c":54.68,"v":"d0"},{"l":4,"c":54.89,"v":"d0"},{"l":4,"c":55.11,"v":"d0"},{"l":4,"c":55.32,"v":"d1"},{"l":4,"c":55.68,"v":"d1"},{"l":4,"c":55.89,"v":"d1"},{"l":4,"c":56.11,"v":"d2"},{"l":4,"c":56.32,"v":"d2"},{"l":4,"c":56.68,"v":"d2"},{"l":4,"c":56.89,"v":"d2"},{"l":4,"c":57.11,"v":"d2"},{"l":4,"c":57.32,"v":"d3"},{"l":4,"c":57.68,"v":"d2"},{"l":4,"c":57.89,"v":"d3"},{"l":4,"c":58.11,"v":"d3"},{"l":4,"c":58.32,"v":"d4"},{"l":4,"c":58.68,"v":"d4"},{"l":4,"c":58.89,"v":"d5"},{"l":4,"c":59.11,"v":"d6"},{"l":4,"c":59.32,"v":"d6"},{"l":4,"c":59.68,"v":"d7"},{"l":4,"c":59.89,"v":"d8"},{"l":4,"c":60.11,"v":"d10"},{"l":4,"c":60.32,"v":"d11"},
{"l":4,"c":67.68,"v":"d8"},{"l":4,"c":67.89,"v":"d7"},{"l":4,"c":68.11,"v":"d6"},{"l":4,"c":68.32,"v":"d5"},
{"l":4,"c":69.68,"v":"d4"},{"l":4,"c":69.89,"v":"d3"},{"l":4,"c":70.11,"v":"d2"},{"l":4,"c":70.32,"v":"d2"},{"l":4,"c":70.68,"v":"d2"},{"l":4,"c":70.89,"v":"d2"},{"l":4,"c":71.11,"v":"d1"},{"l":4,"c":71.32,"v":"d1"},{"l":4,"c":71.68,"v":"d1"},{"l":4,"c":71.89,"v":"d1"},{"l":4,"c":72.11,"v":"d1"},{"l":4,"c":72.32,"v":"d0"},{"l":4,"c":72.68,"v":"d1"},{"l":4,"c":72.89,"v":"d0"},{"l":4,"c":73.11,"v":"d0"},{"l":4,"c":73.32,"v":"d0"},
{"l":4,"c":78.68,"v":"d0"},{"l":4,"c":78.89,"v":"d0"},{"l":4,"c":79.11,"v":"d1"},{"l":4,"c":79.32,"v":"d1"},{"l":4,"c":79.68,"v":"d1"},{"l":4,"c":79.89,"v":"d1"},{"l":4,"c":80.11,"v":"d2"},{"l":4,"c":80.32,"v":"d2"},{"l":4,"c":80.68,"v":"d2"},{"l":4,"c":80.89,"v":"d2"},{"l":4,"c":81.11,"v":"d2"},{"l":4,"c":81.32,"v":"d3"},
{"l":18.25,"c":-0.32,"v":"d6"},{"l":18.25,"c":-0.11,"v":"d11"},{"l":18.25,"c":0.11,"v":"d11"},{"l":18.25,"c":0.32,"v":"d11"},
{"l":18.25,"c":1.68,"v":"d10"},{"l":18.25,"c":1.89,"v":"d9"},{"l":18.25,"c":2.11,"v":"d9"},{"l":18.25,"c":2.32,"v":"d8"},
{"l":18.25,"c":2.68,"v":"d6"},{"l":18.25,"c":2.89,"v":"d4"},{"l":18.25,"c":3.11,"v":"d3"},{"l":18.25,"c":3.32,"v":"d2"},
{"l":18.25,"c":3.68,"v":"d2"},{"l":18.25,"c":3.89,"v":"d1"},{"l":18.25,"c":4.11,"v":"d1"},{"l":18.25,"c":4.32,"v":"d0"},
{"l":18.25,"c":5.68,"v":"d0"},{"l":18.25,"c":5.89,"v":"d1"},{"l":18.25,"c":6.11,"v":"d1"},{"l":18.25,"c":6.32,"v":"d2"},
{"l":18.25,"c":6.68,"v":"d2"},{"l":18.25,"c":6.89,"v":"d3"},{"l":18.25,"c":7.11,"v":"d4"},{"l":18.25,"c":7.32,"v":"d12"},
{"l":18.25,"c":7.68,"v":"d6"},{"l":18.25,"c":7.89,"v":"d11"},{"l":18.25,"c":8.11,"v":"d11"},{"l":18.25,"c":8.32,"v":"d11"},
{"l":18.25,"c":9.68,"v":"d10"},{"l":18.25,"c":9.89,"v":"d9"},{"l":18.25,"c":10.11,"v":"d9"},{"l":18.25,"c":10.32,"v":"d8"},
{"l":18.25,"c":10.68,"v":"d6"},{"l":18.25,"c":10.89,"v":"d4"},{"l":18.25,"c":11.11,"v":"d3"},{"l":18.25,"c":11.32,"v":"d2"},
{"l":18.25,"c":11.68,"v":"d2"},{"l":18.25,"c":11.89,"v":"d1"},{"l":18.25,"c":12.11,"v":"d1"},{"l":18.25,"c":12.32,"v":"d0"},
{"l":18.25,"c":13.68,"v":"d0"},{"l":18.25,"c":13.89,"v":"d1"},{"l":18.25,"c":14.11,"v":"d1"},{"l":18.25,"c":14.32,"v":"d2"},
{"l":18.25,"c":14.68,"v":"d2"},{"l":18.25,"c":14.89,"v":"d3"},{"l":18.25,"c":15.11,"v":"d4"},{"l":18.25,"c":15.32,"v":"d12"},
{"l":18.25,"c":15.68,"v":"d6"},{"l":18.25,"c":15.89,"v":"d11"},{"l":18.25,"c":16.11,"v":"d11"},{"l":18.25,"c":16.32,"v":"d11"},
{"l":18.25,"c":17.68,"v":"d10"},{"l":18.25,"c":17.89,"v":"d9"},{"l":18.25,"c":18.11,"v":"d9"},{"l":18.25,"c":18.32,"v":"d8"},
{"l":18.25,"c":18.68,"v":"d6"},{"l":18.25,"c":18.89,"v":"d4"},{"l":18.25,"c":19.11,"v":"d3"},{"l":18.25,"c":19.32,"v":"d2"},
{"l":18.25,"c":19.68,"v":"d2"},{"l":18.25,"c":19.89,"v":"d1"},{"l":18.25,"c":20.11,"v":"d1"},{"l":18.25,"c":20.32,"v":"d0"},
{"l":18.25,"c":21.68,"v":"d0"},{"l":18.25,"c":21.89,"v":"d1"},{"l":18.25,"c":22.11,"v":"d1"},{"l":18.25,"c":22.32,"v":"d2"},
{"l":18.25,"c":22.68,"v":"d2"},{"l":18.25,"c":22.89,"v":"d3"},{"l":18.25,"c":23.11,"v":"d4"},{"l":18.25,"c":23.32,"v":"d5"},
{"l":18.25,"c":23.68,"v":"d6"},{"l":18.25,"c":23.89,"v":"d11"},{"l":18.25,"c":24.11,"v":"d11"},{"l":18.25,"c":24.32,"v":"d11"},
{"l":18.25,"c":25.68,"v":"d10"},{"l":18.25,"c":25.89,"v":"d9"},{"l":18.25,"c":26.11,"v":"d9"},{"l":18.25,"c":26.32,"v":"d8"},
{"l":18.25,"c":26.68,"v":"d6"},{"l":18.25,"c":26.89,"v":"d4"},{"l":18.25,"c":27.11,"v":"d3"},{"l":18.25,"c":27.32,"v":"d2"},
{"l":18.25,"c":27.68,"v":"d2"},{"l":18.25,"c":27.89,"v":"d1"},{"l":18.25,"c":28.11,"v":"d1"},{"l":18.25,"c":28.32,"v":"d0"},
{"l":18.25,"c":29.68,"v":"d0"},{"l":18.25,"c":29.89,"v":"d1"},{"l":18.25,"c":30.11,"v":"d1"},{"l":18.25,"c":30.32,"v":"d2"},
{"l":18.25,"c":30.68,"v":"d2"},{"l":18.25,"c":30.89,"v":"d3"},{"l":18.25,"c":31.11,"v":"d4"},{"l":18.25,"c":31.32,"v":"d5"},
{"l":18.25,"c":31.68,"v":"d6"},{"l":18.25,"c":31.89,"v":"d11"},{"l":18.25,"c":32.11,"v":"d11"},{"l":18.25,"c":32.32,"v":"d11"},
{"l":18.25,"c":33.68,"v":"d10"},{"l":18.25,"c":33.89,"v":"d9"},{"l":18.25,"c":34.11,"v":"d9"},{"l":18.25,"c":34.32,"v":"d8"},
{"l":18.25,"c":34.68,"v":"d6"},{"l":18.25,"c":34.89,"v":"d4"},{"l":18.25,"c":35.11,"v":"d3"},{"l":18.25,"c":35.32,"v":"d2"},
{"l":18.25,"c":35.68,"v":"d2"},{"l":18.25,"c":35.89,"v":"d1"},{"l":18.25,"c":36.11,"v":"d1"},{"l":18.25,"c":36.32,"v":"d0"},
{"l":18.25,"c":37.68,"v":"d0"},{"l":18.25,"c":37.89,"v":"d1"},{"l":18.25,"c":38.11,"v":"d1"},{"l":18.25,"c":38.32,"v":"d2"},
{"l":18.25,"c":38.68,"v":"d2"},{"l":18.25,"c":38.89,"v":"d3"},{"l":18.25,"c":39.11,"v":"d4"},{"l":18.25,"c":39.32,"v":"d5"},
{"l":18.25,"c":39.68,"v":"d6"},{"l":18.25,"c":39.89,"v":"d11"},{"l":18.25,"c":40.11,"v":"d11"},{"l":18.25,"c":40.32,"v":"d11"},
{"l":18.25,"c":41.68,"v":"d10"},{"l":18.25,"c":41.89,"v":"d9"},{"l":18.25,"c":42.11,"v":"d9"},{"l":18.25,"c":42.32,"v":"d8"},
{"l":18.25,"c":42.68,"v":"d6"},{"l":18.25,"c":42.89,"v":"d4"},{"l":18.25,"c":43.11,"v":"d3"},{"l":18.25,"c":43.32,"v":"d2"},
{"l":18.25,"c":43.68,"v":"d2"},{"l":18.25,"c":43.89,"v":"d1"},{"l":18.25,"c":44.11,"v":"d1"},{"l":18.25,"c":44.32,"v":"d0"},
{"l":18.25,"c":45.68,"v":"d0"},{"l":18.25,"c":45.89,"v":"d1"},{"l":18.25,"c":46.11,"v":"d1"},{"l":18.25,"c":46.32,"v":"d2"},
{"l":18.25,"c":46.68,"v":"d2"},{"l":18.25,"c":46.89,"v":"d4"},{"l":18.25,"c":47.11,"v":"d5"},{"l":18.25,"c":47.32,"v":"d6"}],
"midnights":[{"c":16,"l":-0.375,"l2":10.375,"v":"red"},{"c":40,"l":-0.375,"l2":10.375,"v":"red"},{"c":64,"l":-0.375,"l2":10.375,"v":"red"},{"c":2,"l":15.875,"l2":18.625,"v":"red"},{"c":10,"l":15.875,"l2":18.625,"v":"red"},{"c":18,"l":15.875,"l2":18.625,"v":"red"},{"c":26,"l":15.875,"l2":18.625,"v":"red"},{"c":34,"l":15.875,"l2":18.625,"v":"red"},{"c":42,"l":15.875,"l2":18.625,"v":"red"}],
"digits":[
{"c":2,"l":-2.03,"t":"1","v":"g"},{"c":3,"l":-2.03,"t":"1","v":"g"},{"c":4,"l":-2.03,"t":"1","v":"g"},{"c":5,"l":-2.03,"t":"1","v":"g"},{"c":6,"l":-2.03,"t":"1","v":"g"},{"c":7,"l":-2.03,"t":"1","v":"g"},{"c":8,"l":-2.03,"t":"1","v":"g"},{"c":9,"l":-2.03,"t":"1","v":"g"},{"c":10,"l":-2.03,"t":"1","v":"g"},{"c":11,"l":-2.03,"t":"1","v":"g"},{"c":12,"l":-2.03,"t":"2","v":"g"},{"c":13,"l":-2.03,"t":"2","v":"g"},{"c":14,"l":-2.03,"t":"2","v":"g"},{"c":15,"l":-2.03,"t":"2","v":"g"},
{"c":26,"l":-2.03,"t":"1","v":"y"},{"c":27,"l":-2.03,"t":"1","v":"y"},{"c":28,"l":-2.03,"t":"1","v":"y"},{"c":29,"l":-2.03,"t":"1","v":"y"},{"c":30,"l":-2.03,"t":"1","v":"y"},{"c":31,"l":-2.03,"t":"1","v":"y"},{"c":32,"l":-2.03,"t":"1","v":"y"},{"c":33,"l":-2.03,"t":"1","v":"y"},{"c":34,"l":-2.03,"t":"1","v":"y"},{"c":35,"l":-2.03,"t":"1","v":"y"},{"c":36,"l":-2.03,"t":"2","v":"y"},{"c":37,"l":-2.03,"t":"2","v":"y"},{"c":38,"l":-2.03,"t":"2","v":"y"},{"c":39,"l":-2.03,"t":"2","v":"y"},
{"c":50,"l":-2.03,"t":"1","v":"s"},{"c":51,"l":-2.03,"t":"1","v":"s"},{"c":52,"l":-2.03,"t":"1","v":"s"},{"c":53,"l":-2.03,"t":"1","v":"s"},{"c":54,"l":-2.03,"t":"1","v":"s"},{"c":55,"l":-2.03,"t":"1","v":"s"},{"c":56,"l":-2.03,"t":"1","v":"s"},{"c":57,"l":-2.03,"t":"1","v":"s"},{"c":58,"l":-2.03,"t":"1","v":"s"},{"c":59,"l":-2.03,"t":"1","v":"s"},{"c":60,"l":-2.03,"t":"2","v":"s"},{"c":61,"l":-2.03,"t":"2","v":"s"},{"c":62,"l":-2.03,"t":"2","v":"s"},{"c":63,"l":-2.03,"t":"2","v":"s"},
{"c":74,"l":-2.03,"t":"1","v":"m"},{"c":75,"l":-2.03,"t":"1","v":"m"},{"c":76,"l":-2.03,"t":"1","v":"m"},{"c":77,"l":-2.03,"t":"1","v":"m"},{"c":78,"l":-2.03,"t":"1","v":"m"},{"c":79,"l":-2.03,"t":"1","v":"m"},{"c":80,"l":-2.03,"t":"1","v":"m"},{"c":81,"l":-2.03,"t":"1","v":"m"},
{"c":0,"l":-1.09,"t":"8","v":"g"},{"c":1,"l":-1.09,"t":"9","v":"g"},{"c":2,"l":-1.09,"t":"0","v":"g"},{"c":3,"l":-1.09,"t":"1","v":"g"},{"c":4,"l":-1.09,"t":"2","v":"g"},{"c":5,"l":-1.09,"t":"3","v":"g"},{"c":6,"l":-1.09,"t":"4","v":"g"},{"c":7,"l":-1.09,"t":"5","v":"g"},{"c":8,"l":-1.09,"t":"6","v":"g"},{"c":9,"l":-1.09,"t":"7","v":"g"},{"c":10,"l":-1.09,"t":"8","v":"g"},{"c":11,"l":-1.09,"t":"9","v":"g"},{"c":12,"l":-1.09,"t":"0","v":"g"},{"c":13,"l":-1.09,"t":"1","v":"g"},{"c":14,"l":-1.09,"t":"2","v":"g"},{"c":15,"l":-1.09,"t":"3","v":"g"},
{"c":16,"l":-1.09,"t":"0","v":"y"},{"c":17,"l":-1.09,"t":"1","v":"y"},{"c":18,"l":-1.09,"t":"2","v":"y"},{"c":19,"l":-1.09,"t":"3","v":"y"},{"c":20,"l":-1.09,"t":"4","v":"y"},{"c":21,"l":-1.09,"t":"5","v":"y"},{"c":22,"l":-1.09,"t":"6","v":"y"},{"c":23,"l":-1.09,"t":"7","v":"y"},{"c":24,"l":-1.09,"t":"8","v":"y"},{"c":25,"l":-1.09,"t":"9","v":"y"},{"c":26,"l":-1.09,"t":"0","v":"y"},{"c":27,"l":-1.09,"t":"1","v":"y"},{"c":28,"l":-1.09,"t":"2","v":"y"},{"c":29,"l":-1.09,"t":"3","v":"y"},{"c":30,"l":-1.09,"t":"4","v":"y"},{"c":31,"l":-1.09,"t":"5","v":"y"},{"c":32,"l":-1.09,"t":"6","v":"y"},{"c":33,"l":-1.09,"t":"7","v":"y"},{"c":34,"l":-1.09,"t":"8","v":"y"},{"c":35,"l":-1.09,"t":"9","v":"y"},{"c":36,"l":-1.09,"t":"0","v":"y"},{"c":37,"l":-1.09,"t":"1","v":"y"},{"c":38,"l":-1.09,"t":"2","v":"y"},{"c":39,"l":-1.09,"t":"3","v":"y"},
{"c":40,"l":-1.09,"t":"0","v":"s"},{"c":41,"l":-1.09,"t":"1","v":"s"},{"c":42,"l":-1.09,"t":"2","v":"s"},{"c":43,"l":-1.09,"t":"3","v":"s"},{"c":44,"l":-1.09,"t":"4","v":"s"},{"c":45,"l":-1.09,"t":"5","v":"s"},{"c":46,"l":-1.09,"t":"6","v":"s"},{"c":47,"l":-1.09,"t":"7","v":"s"},{"c":48,"l":-1.09,"t":"8","v":"s"},{"c":49,"l":-1.09,"t":"9","v":"s"},{"c":50,"l":-1.09,"t":"0","v":"s"},{"c":51,"l":-1.09,"t":"1","v":"s"},{"c":52,"l":-1.09,"t":"2","v":"s"},{"c":53,"l":-1.09,"t":"3","v":"s"},{"c":54,"l":-1.09,"t":"4","v":"s"},{"c":55,"l":-1.09,"t":"5","v":"s"},{"c":56,"l":-1.09,"t":"6","v":"s"},{"c":57,"l":-1.09,"t":"7","v":"s"},{"c":58,"l":-1.09,"t":"8","v":"s"},{"c":59,"l":-1.09,"t":"9","v":"s"},{"c":60,"l":-1.09,"t":"0","v":"s"},{"c":61,"l":-1.09,"t":"1","v":"s"},{"c":62,"l":-1.09,"t":"2","v":"s"},{"c":63,"l":-1.09,"t":"3","v":"s"},
{"c":64,"l":-1.09,"t":"0","v":"m"},{"c":65,"l":-1.09,"t":"1","v":"m"},{"c":66,"l":-1.09,"t":"2","v":"m"},{"c":67,"l":-1.09,"t":"3","v":"m"},{"c":68,"l":-1.09,"t":"4","v":"m"},{"c":69,"l":-1.09,"t":"5","v":"m"},{"c":70,"l":-1.09,"t":"6","v":"m"},{"c":71,"l":-1.09,"t":"7","v":"m"},{"c":72,"l":-1.09,"t":"8","v":"m"},{"c":73,"l":-1.09,"t":"9","v":"m"},{"c":74,"l":-1.09,"t":"0","v":"m"},{"c":75,"l":-1.09,"t":"1","v":"m"},{"c":76,"l":-1.09,"t":"2","v":"m"},{"c":77,"l":-1.09,"t":"3","v":"m"},{"c":78,"l":-1.09,"t":"4","v":"m"},{"c":79,"l":-1.09,"t":"5","v":"m"},{"c":80,"l":-1.09,"t":"6","v":"m"},{"c":81,"l":-1.09,"t":"7","v":"m"},
{"c":0,"l":14.22,"t":"2","v":"m"},{"c":1,"l":14.22,"t":"2","v":"m"},
{"c":5,"l":14.22,"t":"1","v":"p"},{"c":6,"l":14.22,"t":"1","v":"p"},{"c":7,"l":14.22,"t":"1","v":"p"},{"c":8,"l":14.22,"t":"2","v":"p"},{"c":9,"l":14.22,"t":"2","v":"p"},
{"c":13,"l":14.22,"t":"1","v":"g"},{"c":14,"l":14.22,"t":"1","v":"g"},{"c":15,"l":14.22,"t":"1","v":"g"},{"c":16,"l":14.22,"t":"2","v":"g"},{"c":17,"l":14.22,"t":"2","v":"g"},
{"c":21,"l":14.22,"t":"1","v":"y"},{"c":22,"l":14.22,"t":"1","v":"y"},{"c":23,"l":14.22,"t":"1","v":"y"},{"c":24,"l":14.22,"t":"2","v":"y"},{"c":25,"l":14.22,"t":"2","v":"y"},
{"c":29,"l":14.22,"t":"1","v":"s"},{"c":30,"l":14.22,"t":"1","v":"s"},{"c":31,"l":14.22,"t":"1","v":"s"},{"c":32,"l":14.22,"t":"2","v":"s"},{"c":33,"l":14.22,"t":"2","v":"s"},
{"c":37,"l":14.22,"t":"1","v":"m"},{"c":38,"l":14.22,"t":"1","v":"m"},{"c":39,"l":14.22,"t":"1","v":"m"},{"c":40,"l":14.22,"t":"2","v":"m"},{"c":41,"l":14.22,"t":"2","v":"m"},
{"c":45,"l":14.22,"t":"1","v":"p"},{"c":46,"l":14.22,"t":"1","v":"p"},{"c":47,"l":14.22,"t":"1","v":"p"},
{"c":0,"l":15.16,"t":"0","v":"m"},{"c":1,"l":15.16,"t":"3","v":"m"},
{"c":2,"l":15.16,"t":"2","v":"p"},{"c":3,"l":15.16,"t":"5","v":"p"},{"c":4,"l":15.16,"t":"8","v":"p"},{"c":5,"l":15.16,"t":"1","v":"p"},{"c":6,"l":15.16,"t":"4","v":"p"},{"c":7,"l":15.16,"t":"7","v":"p"},{"c":8,"l":15.16,"t":"0","v":"p"},{"c":9,"l":15.16,"t":"3","v":"p"},
{"c":10,"l":15.16,"t":"2","v":"g"},{"c":11,"l":15.16,"t":"5","v":"g"},{"c":12,"l":15.16,"t":"8","v":"g"},{"c":13,"l":15.16,"t":"1","v":"g"},{"c":14,"l":15.16,"t":"4","v":"g"},{"c":15,"l":15.16,"t":"7","v":"g"},{"c":16,"l":15.16,"t":"0","v":"g"},{"c":17,"l":15.16,"t":"3","v":"g"},
{"c":18,"l":15.16,"t":"2","v":"y"},{"c":19,"l":15.16,"t":"5","v":"y"},{"c":20,"l":15.16,"t":"8","v":"y"},{"c":21,"l":15.16,"t":"1","v":"y"},{"c":22,"l":15.16,"t":"4","v":"y"},{"c":23,"l":15.16,"t":"7","v":"y"},{"c":24,"l":15.16,"t":"0","v":"y"},{"c":25,"l":15.16,"t":"3","v":"y"},
{"c":26,"l":15.16,"t":"2","v":"s"},{"c":27,"l":15.16,"t":"5","v":"s"},{"c":28,"l":15.16,"t":"8","v":"s"},{"c":29,"l":15.16,"t":"1","v":"s"},{"c":30,"l":15.16,"t":"4","v":"s"},{"c":31,"l":15.16,"t":"7","v":"s"},{"c":32,"l":15.16,"t":"0","v":"s"},{"c":33,"l":15.16,"t":"3","v":"s"},
{"c":34,"l":15.16,"t":"2","v":"m"},{"c":35,"l":15.16,"t":"5","v":"m"},{"c":36,"l":15.16,"t":"8","v":"m"},{"c":37,"l":15.16,"t":"1","v":"m"},{"c":38,"l":15.16,"t":"4","v":"m"},{"c":39,"l":15.16,"t":"7","v":"m"},{"c":40,"l":15.16,"t":"0","v":"m"},{"c":41,"l":15.16,"t":"3","v":"m"},
{"c":42,"l":15.16,"t":"2","v":"p"},{"c":43,"l":15.16,"t":"5","v":"p"},{"c":44,"l":15.16,"t":"8","v":"p"},{"c":45,"l":15.16,"t":"1","v":"p"},{"c":46,"l":15.16,"t":"4","v":"p"},{"c":47,"l":15.16,"t":"7","v":"p"}],
"labels":[
{"c":-9.857,"l":-2.93,"t":"2026-08-04","v":"g"},{"c":-9.857,"l":-2.03,"t":"Local Time","v":"o"},{"c":1.607,"l":-2.93,"t":"Tuesday, 4","v":"g"},{"c":25.607,"l":-2.93,"t":"Wednesday, 5","v":"y"},{"c":49.607,"l":-2.93,"t":"Thursday, 6","v":"s"},{"c":73.607,"l":-2.93,"t":"Friday, 7","v":"m"},
{"c":-9,"l":-0.09,"t":"Cloud Cover:","v":"w"},{"c":-9,"l":0.91,"t":"ECMWF Cloud:","v":"w"},{"c":-9,"l":1.91,"t":"Transparency:","v":"w"},{"c":-9,"l":2.91,"t":"Seeing:","v":"w"},{"c":-9,"l":3.91,"t":"Darkness:","v":"b"},{"c":-9,"l":6.91,"t":"Smoke:","v":"w"},{"c":-9,"l":7.91,"t":"Wind:","v":"w"},{"c":-9,"l":8.91,"t":"Humidity:","v":"w"},{"c":-9,"l":9.91,"t":"Temperature:","v":"w"},
{"c":-10,"l":12.09,"t":"EXTENDED Forecast. Each block is 3 hours. (A sponsored feature)","v":"e"},
{"c":-9.857,"l":13.31,"t":"2026-08-07","v":"m"},{"c":-9.857,"l":14.22,"t":"Local Time","v":"o"},{"c":-0.393,"l":13.31,"t":"F","v":"m"},{"c":4.179,"l":13.31,"t":"Sat, 8","v":"p"},{"c":12.179,"l":13.31,"t":"Sun, 9","v":"g"},{"c":20.179,"l":13.31,"t":"Mon, 10","v":"y"},{"c":28.179,"l":13.31,"t":"Tue, 11","v":"s"},{"c":36.179,"l":13.31,"t":"Wed, 12","v":"m"},{"c":43.25,"l":13.31,"t":"Thu, 13","v":"p"},
{"c":-9,"l":16.16,"t":"Cloud Cover:","v":"w"},{"c":-9,"l":17.16,"t":"ECMWF Cloud:","v":"w"},{"c":-9,"l":18.16,"t":"Darkness:","v":"b"},
{"c":14.43,"l":20.84,"t":"© 2026 Attilla Danko","v":"w"},{"c":28.57,"l":20.84,"t":"forecast: A.Rahill","v":"w"},{"c":41.43,"l":20.84,"t":"data:","v":"w"}],
"titles":[{"c":20.5,"l":-4.42,"t":"Winer Observatory","v":"y"},{"c":38.43,"l":-4.42,"t":"Clear Sky Chart","v":"cy"}],
"small":[{"c":-9.786,"l":-1.22,"t":"(GMT -7+0)","v":"o"},{"c":-9.786,"l":15.06,"t":"(GMT -7+0)","v":"o"}],
"vertical":[{"c":-9.571,"l":2,"t":"– – Sky – –","v":"y"},{"c":-9.571,"l":8.53,"t":"– Ground –","v":"w"},{"c":-9.571,"l":17.25,"t":"– Sky –","v":"y"}],
"logoText":[{"c":48.25,"l":20.625,"t":"Environment","v":"k"},{"c":48.25,"l":21.06,"t":"Canada","v":"k"},{"c":52.93,"l":20.625,"t":"Environnement","v":"k"},{"c":52.93,"l":21.06,"t":"Canada","v":"k"}],
"leaf":[{"c":46.32,"l":20.81,"v":"red"}]},
"layer":[
{"data":{"name":"panels"},"mark":{"type":"rect"},"encoding":{"x2":{"field":"c2"},"y2":{"field":"l2"}}},
{"data":{"name":"cells"},"mark":{"type":"rect","width":12,"height":12}},
{"data":{"name":"strips"},"mark":{"type":"rect","width":3.2,"height":12}},
{"data":{"name":"links"},"mark":{"type":"rect","width":2.5,"height":6}},
{"data":{"name":"midnights"},"mark":{"type":"rule","strokeWidth":2,"xOffset":-6},"encoding":{"y2":{"field":"l2"}}},
{"data":{"name":"digits"},"mark":{"type":"text","font":"Liberation Mono","fontSize":14.5,"align":"center","baseline":"middle"},"encoding":{"text":{"field":"t"}}},
{"data":{"name":"labels"},"mark":{"type":"text","font":"Liberation Mono","fontSize":15,"align":"left","baseline":"middle"},"encoding":{"text":{"field":"t"}}},
{"data":{"name":"titles"},"mark":{"type":"text","font":"DejaVu Sans Mono","fontWeight":"bold","fontSize":20,"align":"left","baseline":"middle"},"encoding":{"text":{"field":"t"}}},
{"data":{"name":"small"},"mark":{"type":"text","font":"DejaVu Sans Mono","fontWeight":"bold","fontSize":8,"align":"left","baseline":"middle"},"encoding":{"text":{"field":"t"}}},
{"data":{"name":"vertical"},"mark":{"type":"text","font":"DejaVu Sans Mono","fontSize":9.5,"align":"center","baseline":"middle","angle":270},"encoding":{"text":{"field":"t"}}},
{"data":{"name":"logoText"},"mark":{"type":"text","font":"Liberation Sans","fontSize":9,"align":"left","baseline":"middle"},"encoding":{"text":{"field":"t"}}},
{"data":{"name":"leaf"},"mark":{"type":"point","filled":true,"opacity":1,"size":30,"shape":"M0,-1 L0.18,-0.6 L0.38,-0.75 L0.3,-0.25 L0.55,-0.4 L0.6,-0.2 L1,-0.25 L0.85,0.1 L0.95,0.2 L0.4,0.55 L0.45,0.7 L0.05,0.65 L0.05,1 L-0.05,1 L-0.05,0.65 L-0.45,0.7 L-0.4,0.55 L-0.95,0.2 L-0.85,0.1 L-1,-0.25 L-0.6,-0.2 L-0.55,-0.4 L-0.3,-0.25 L-0.38,-0.75 L-0.18,-0.6 Z"}}
]}
